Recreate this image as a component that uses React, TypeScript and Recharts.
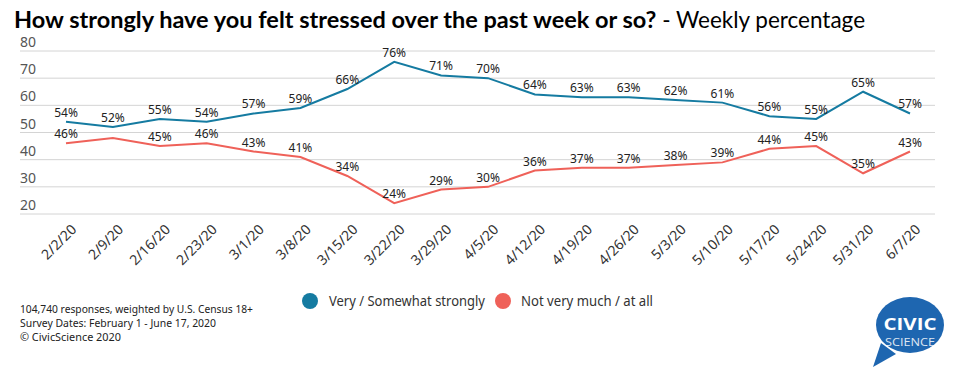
import { CartesianGrid, LabelList, Line, LineChart, XAxis, YAxis } from "recharts";

const weeks = [
  "2/2/20", "2/9/20", "2/16/20", "2/23/20", "3/1/20", "3/8/20", "3/15/20", "3/22/20", "3/29/20", "4/5/20",
  "4/12/20", "4/19/20", "4/26/20", "5/3/20", "5/10/20", "5/17/20", "5/24/20", "5/31/20", "6/7/20",
];
const strongly = [54, 52, 55, 54, 57, 59, 66, 76, 71, 70, 64, 63, 63, 62, 61, 56, 55, 65, 57];
const notMuch = [46, 48, 45, 46, 43, 41, 34, 24, 29, 30, 36, 37, 37, 38, 39, 44, 45, 35, 43];
// the source chart leaves this label off (it sits under the blue one)
const hiddenNotMuchLabels = [1];
const yTicks = [20, 30, 40, 50, 60, 70, 80];

const BLUE = "#157ba1";
const RED = "#ef6159";
const FONT = "'Noto Sans', sans-serif";

const data = weeks.map((week, i) => ({ week, strongly: strongly[i], notMuch: notMuch[i] }));

function YTick({ y, payload }: any) {
  return (
    <text x={20} y={y - 4} fontSize={14} fill="#555" fontFamily={FONT}>
      {payload.value}
    </text>
  );
}

function XTick({ x, y, payload }: any) {
  return (
    <g transform={`translate(${x + 5},${y + 2})`}>
      <text textAnchor="end" transform="rotate(-45)" dy={9} fontSize={14} fill="#333" fontFamily={FONT}>
        {payload.value}
      </text>
    </g>
  );
}

function pctLabel(hidden: number[]) {
  return (props: any) => {
    const { x, y, value, index } = props;
    if (hidden.includes(index)) return null;
    return (
      <text x={x} y={y - 5} textAnchor="middle" fontSize={12} fill="#222" fontFamily={FONT}>
        {value}%
      </text>
    );
  };
}

export default function App() {
  return (
    <div style={{ position: "absolute", left: 0, top: 0, width: 962, height: 372, background: "#fff" }}>
      <LineChart width={962} height={372} data={data} margin={{ top: 51, right: 27, left: -10, bottom: 98 }}>
        <CartesianGrid vertical={false} stroke="#d4d4d4" />
        <XAxis
          dataKey="week"
          axisLine={false}
          tickLine={false}
          interval={0}
          height={60}
          padding={{ left: 46, right: 25 }}
          tick={<XTick />}
        />
        <YAxis domain={[20, 80]} ticks={yTicks} width={30} axisLine={false} tickLine={false} tick={<YTick />} />
        <Line dataKey="strongly" stroke={BLUE} strokeWidth={2} dot={false} isAnimationActive={false}>
          <LabelList dataKey="strongly" content={pctLabel([])} />
        </Line>
        <Line dataKey="notMuch" stroke={RED} strokeWidth={2} dot={false} isAnimationActive={false}>
          <LabelList dataKey="notMuch" content={pctLabel(hiddenNotMuchLabels)} />
        </Line>
      </LineChart>
      <svg width={962} height={372} style={{ position: "absolute", left: 0, top: 0, pointerEvents: "none" }}>
        <text x={14} y={28} fontFamily="Lato, sans-serif" fill="#000">
          <tspan fontWeight="bold" fontSize={23.5}>How strongly have you felt stressed over the past week or so?</tspan>
          <tspan fontSize={22.5}> - Weekly percentage</tspan>
        </text>

        <circle cx={310} cy={301} r={8} fill={BLUE} />
        <text x={329} y={306} fontSize={14} fill="#333" fontFamily={FONT} textLength={156} lengthAdjust="spacingAndGlyphs">
          Very / Somewhat strongly
        </text>
        <circle cx={503} cy={301} r={8} fill={RED} />
        <text x={521} y={306} fontSize={14} fill="#333" fontFamily={FONT} textLength={132} lengthAdjust="spacingAndGlyphs">
          Not very much / at all
        </text>

        <g fontSize={11} fill="#222" fontFamily={FONT}>
          <text x={20} y={313} textLength={233} lengthAdjust="spacingAndGlyphs">104,740 responses, weighted by U.S. Census 18+</text>
          <text x={20} y={327} textLength={196} lengthAdjust="spacingAndGlyphs">Survey Dates: February 1 - June 17, 2020</text>
          <text x={20} y={341} textLength={101} lengthAdjust="spacingAndGlyphs">© CivicScience 2020</text>
        </g>

        <path d="M 881 343 L 873 367 L 896 354 Z" fill="#1e66b0" />
        <ellipse cx={910} cy={325} rx={34} ry={28} fill="#1e66b0" />
        <text x={910} y={329.5} textAnchor="middle" fontFamily="'Open Sans', sans-serif" fontWeight="bold" fontSize={16} fill="#fff" textLength={53} lengthAdjust="spacingAndGlyphs">CIVIC</text>
        <text x={910} y={345.5} textAnchor="middle" fontFamily="'Open Sans', sans-serif" fontSize={11} fill="#fff" opacity={0.85} textLength={50} lengthAdjust="spacingAndGlyphs">SCIENCE</text>
      </svg>
    </div>
  );
}
